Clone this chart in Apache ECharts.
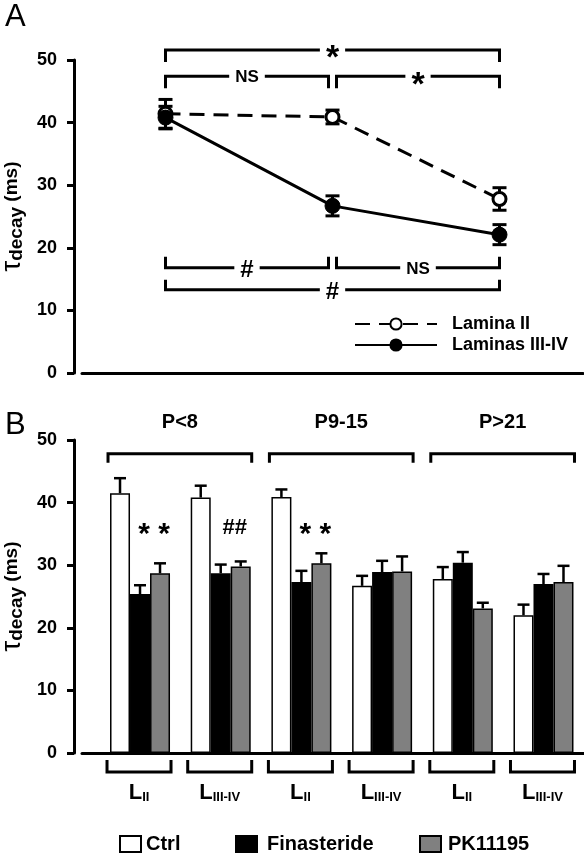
<!DOCTYPE html>
<html><head><meta charset="utf-8">
<script src="https://cdn.jsdelivr.net/npm/echarts@6/dist/echarts.min.js"></script>
<style>html,body{margin:0;padding:0;background:#fff}#c{width:584px;height:853px}</style>
</head><body><div id="c"></div>
<script>
// ---------- Panel A data ----------
const agesA = ['P<8', 'P9-15', 'P>21'];
const laminaII = [41.4, 40.9, 27.8];
const laminaIIErr = [2.3, 1.1, 1.8];
const laminasIIIIV = [40.8, 26.7, 22.1];
const laminasIIIIVErr = [1.8, 1.6, 1.6];
const yTicksA = [0, 10, 20, 30, 40, 50];
// significance brackets: [fromIndex, toIndex, level, text, direction]
const bracketsA = [
  [0, 2, 51.6, '*', 'down'],
  [0, 1, 47.4, 'NS', 'down'],
  [1, 2, 47.4, '*', 'down'],
  [0, 1, 16.8, '#', 'up'],
  [1, 2, 16.8, 'NS', 'up'],
  [0, 2, 13.3, '#', 'up']
];

// ---------- Panel B data ----------
const groupPos = [1, 2, 3, 4, 5, 6];
const groupLamina = ['II', 'III-IV', 'II', 'III-IV', 'II', 'III-IV'];
const ageGroupsB = ['P<8', 'P9-15', 'P>21'];
const ctrl = [41.5, 40.8, 40.9, 26.7, 27.8, 22.0];
const ctrlErr = [2.4, 1.9, 1.2, 1.6, 1.9, 1.7];
const finasteride = [25.4, 28.7, 27.3, 28.9, 30.4, 27.0];
const finasterideErr = [1.4, 1.4, 1.8, 1.8, 1.7, 1.6];
const pk11195 = [28.7, 29.8, 30.3, 29.0, 23.1, 27.3];
const pk11195Err = [1.6, 0.8, 1.6, 2.4, 0.9, 2.6];
const sigTextB = ['* *', '##', '* *'];
const sigGroupB = [1, 2, 3];
const sigLevelB = 36;
const bracketLevelB = 47.8;

const FONT = '"Liberation Sans", Arial, sans-serif';
const chart = echarts.init(document.getElementById('c'), null, {renderer: 'canvas'});

function errSeries(name, xi, yi, xs, means, errs, offset, twoSided, capHalf, lw, z) {
  return {
    type: 'custom', name: name, xAxisIndex: xi, yAxisIndex: yi, z: z, silent: true, clip: false,
    data: means.map((m, i) => [xs[i], m, errs[i]]),
    renderItem: function (params, api) {
      const x = api.value(0), m = api.value(1), e = api.value(2);
      const t = api.coord([x, m + e]);
      const b = api.coord([x, twoSided ? m - e : m]);
      const cx = t[0] + offset;
      const children = [
        {type: 'line', shape: {x1: cx, y1: t[1], x2: cx, y2: b[1]}, style: {stroke: '#000', lineWidth: lw}},
        {type: 'line', shape: {x1: cx - capHalf, y1: t[1], x2: cx + capHalf, y2: t[1]}, style: {stroke: '#000', lineWidth: lw}}
      ];
      if (twoSided) children.push({type: 'line', shape: {x1: cx - capHalf, y1: b[1], x2: cx + capHalf, y2: b[1]}, style: {stroke: '#000', lineWidth: lw}});
      return {type: 'group', children: children};
    }
  };
}

const nameRich = {
  t: {fontSize: 27, fontFamily: FONT, color: '#000'},
  s: {fontSize: 19, fontFamily: FONT, fontWeight: 'bold', color: '#000', verticalAlign: 'bottom', padding: [9, 0, 0, 0]},
  n: {fontSize: 19, fontFamily: FONT, fontWeight: 'bold', color: '#000'}
};
const yNameText = '{t|τ}{s|decay}{n| (ms)}';

function yAxisCommon(gi) {
  return {
    type: 'value', gridIndex: gi, min: 0, max: 50, interval: 10, offset: 8,
    name: yNameText, nameLocation: 'middle', nameGap: 45, nameRotate: 90,
    nameTextStyle: {rich: nameRich},
    axisLine: {show: true, onZero: false, lineStyle: {color: '#000', width: 3}},
    axisTick: {show: true, length: 7, lineStyle: {color: '#000', width: 3}},
    axisLabel: {color: '#000', fontSize: 18, fontWeight: 'bold', fontFamily: FONT, margin: 17},
    splitLine: {show: false}
  };
}

const legendText = {fontSize: 20, fontWeight: 'bold', fontFamily: FONT, color: '#000'};

const option = {
  backgroundColor: '#fff',
  animation: false,
  title: [
    {text: 'A', left: 0, top: -3, textStyle: {fontSize: 31, fontWeight: 'normal', fontFamily: FONT, color: '#000'}},
    {text: 'B', left: 0, top: 405, textStyle: {fontSize: 31, fontWeight: 'normal', fontFamily: FONT, color: '#000'}}
  ],
  grid: [
    {left: 82, right: 1, top: 60, height: 313, outerBoundsMode: 'none'},
    {left: 82, right: 0, top: 440, height: 313, outerBoundsMode: 'none'}
  ],
  xAxis: [
    {type: 'category', gridIndex: 0, data: agesA, boundaryGap: true,
     axisLine: {lineStyle: {color: '#000', width: 3}},
     axisTick: {alignWithLabel: true, length: 12, lineStyle: {color: '#000', width: 3}},
     axisLabel: {show: false}, splitLine: {show: false}},
    {type: 'value', gridIndex: 1, min: 0.281, max: 6.502,
     axisLine: {onZero: false, lineStyle: {color: '#000', width: 3}},
     axisTick: {show: false}, axisLabel: {show: false}, splitLine: {show: false}}
  ],
  yAxis: [yAxisCommon(0), yAxisCommon(1)],
  legend: [
    {data: ['Lamina II', 'Laminas III-IV'], orient: 'vertical', left: 349, top: 310,
     itemWidth: 82, itemHeight: 14, itemGap: 3, selectedMode: false,
     textStyle: {fontSize: 18, fontWeight: 'bold', fontFamily: FONT, color: '#000', padding: [0, 0, 0, 10]}},
    {data: ['Ctrl'], left: 114, top: 829, itemWidth: 21, itemHeight: 16, selectedMode: false, icon: 'rect',
     textStyle: Object.assign({padding: [0, 0, 0, 0]}, legendText)},
    {data: ['Finasteride'], left: 230, top: 829, itemWidth: 21, itemHeight: 16, selectedMode: false, icon: 'rect',
     textStyle: Object.assign({padding: [0, 0, 0, 5]}, legendText)},
    {data: ['PK11195'], left: 414, top: 829, itemWidth: 21, itemHeight: 16, selectedMode: false, icon: 'rect',
     textStyle: Object.assign({padding: [0, 0, 0, 2]}, legendText)}
  ],
  series: [
    errSeries('errII', 0, 0, [0, 1, 2], laminaII, laminaIIErr, 0, true, 7, 3, 1),
    errSeries('errIIIIV', 0, 0, [0, 1, 2], laminasIIIIV, laminasIIIIVErr, 0, true, 7, 3, 1),
    {type: 'line', name: 'Lamina II', xAxisIndex: 0, yAxisIndex: 0, data: laminaII, z: 3,
     symbol: 'circle', symbolSize: 13,
     itemStyle: {color: '#fff', borderColor: '#000', borderWidth: 3},
     lineStyle: {color: '#000', width: 3, type: [15, 9]}},
    {type: 'line', name: 'Laminas III-IV', xAxisIndex: 0, yAxisIndex: 0, data: laminasIIIIV, z: 4,
     symbol: 'circle', symbolSize: 15,
     itemStyle: {color: '#000', borderColor: '#000', borderWidth: 1},
     lineStyle: {color: '#000', width: 3, type: 'solid'}},
    // Panel A brackets
    {type: 'custom', xAxisIndex: 0, yAxisIndex: 0, silent: true, clip: false, z: 5,
     data: bracketsA.map((b, i) => [b[0], b[2], i]),
     renderItem: function (params, api) {
       const b = bracketsA[params.dataIndex];
       const p1 = api.coord([b[0], b[2]]);
       const p2 = api.coord([b[1], b[2]]);
       const adj = Math.abs(b[1] - b[0]) === 1;
       let x1 = p1[0], x2 = p2[0];
       if (adj && b[0] === 1) x1 += 4;
       if (adj && b[1] === 1) x2 -= 4;
       const y = p1[1];
       const tip = b[4] === 'down' ? 12 : (adj ? -11 : -10);
       const isStar = b[3] === '*';
       const isHash = b[3] === '#';
       const fs = isStar ? 34 : (isHash ? 24 : 17);
       return {type: 'group', children: [
         {type: 'polyline', shape: {points: [[x1, y + tip], [x1, y], [x2, y], [x2, y + tip]]},
          style: {stroke: '#000', lineWidth: 3, fill: null}},
         {type: 'text', x: (x1 + x2) / 2, y: y + (isStar ? 9 : (isHash ? 3 : 1)),
          style: {text: b[3], fontSize: fs, fontWeight: 'bold', fontFamily: FONT, fill: '#000',
                  align: 'center', verticalAlign: 'middle', backgroundColor: '#fff', padding: [0, 6]}}
       ]};
     }},
    // Panel B bars
    {type: 'bar', name: 'Ctrl', xAxisIndex: 1, yAxisIndex: 1, barWidth: 20, barGap: '0%',
     data: groupPos.map((x, i) => [x, ctrl[i]]),
     itemStyle: {color: '#fff', borderColor: '#000', borderWidth: 1.5}},
    {type: 'bar', name: 'Finasteride', xAxisIndex: 1, yAxisIndex: 1, barWidth: 20, barGap: '0%',
     data: groupPos.map((x, i) => [x, finasteride[i]]),
     itemStyle: {color: '#000', borderColor: '#000', borderWidth: 1.5}},
    {type: 'bar', name: 'PK11195', xAxisIndex: 1, yAxisIndex: 1, barWidth: 20, barGap: '0%',
     data: groupPos.map((x, i) => [x, pk11195[i]]),
     itemStyle: {color: '#808080', borderColor: '#000', borderWidth: 1.5}},
    errSeries('errCtrl', 1, 1, groupPos, ctrl, ctrlErr, -20, false, 6, 2.5, 3),
    errSeries('errFin', 1, 1, groupPos, finasteride, finasterideErr, 0, false, 6, 2.5, 3),
    errSeries('errPk', 1, 1, groupPos, pk11195, pk11195Err, 20, false, 6, 2.5, 3),
    // Panel B age brackets (top)
    {type: 'custom', xAxisIndex: 1, yAxisIndex: 1, silent: true, clip: false, z: 5,
     data: ageGroupsB.map((a, i) => [groupPos[2 * i], bracketLevelB, i]),
     renderItem: function (params, api) {
       const i = params.dataIndex;
       const p1 = api.coord([groupPos[2 * i], bracketLevelB]);
       const p2 = api.coord([groupPos[2 * i + 1], bracketLevelB]);
       const x1 = p1[0] - 32, x2 = p2[0] + 31, y = p1[1];
       return {type: 'group', children: [
         {type: 'polyline', shape: {points: [[x1, y + 9], [x1, y], [x2, y], [x2, y + 9]]},
          style: {stroke: '#000', lineWidth: 3, fill: null}},
         {type: 'text', x: (x1 + x2) / 2, y: y - 31,
          style: {text: ageGroupsB[i], fontSize: 20, fontWeight: 'bold', fontFamily: FONT, fill: '#000',
                  align: 'center', verticalAlign: 'middle'}}
       ]};
     }},
    // Panel B lamina brackets (bottom) and labels
    {type: 'custom', xAxisIndex: 1, yAxisIndex: 1, silent: true, clip: false, z: 5,
     data: groupPos.map((x, i) => [x, 0, i]),
     renderItem: function (params, api) {
       const i = params.dataIndex;
       const p = api.coord([groupPos[i], 0]);
       const x1 = p[0] - 33, x2 = p[0] + 31, y0 = p[1];
       return {type: 'group', children: [
         {type: 'polyline', shape: {points: [[x1, y0 + 7], [x1, y0 + 19], [x2, y0 + 19], [x2, y0 + 7]]},
          style: {stroke: '#000', lineWidth: 3, fill: null}},
         {type: 'text', x: p[0] - 1, y: y0 + 40,
          style: {text: '{L|L}{s|' + groupLamina[i] + '}', align: 'center', verticalAlign: 'middle',
                  rich: {
                    L: {fontSize: 22, fontWeight: 'bold', fontFamily: FONT, fill: '#000'},
                    s: {fontSize: 13, fontWeight: 'bold', fontFamily: FONT, fill: '#000', verticalAlign: 'bottom', padding: [8, 0, 0, 0]}
                  }}}
       ]};
     }},
    // Panel B significance marks
    {type: 'custom', xAxisIndex: 1, yAxisIndex: 1, silent: true, clip: false, z: 6,
     data: sigGroupB.map((g, i) => [g, sigLevelB, i]),
     renderItem: function (params, api) {
       const i = params.dataIndex;
       const p = api.coord([sigGroupB[i], sigLevelB]);
       const star = sigTextB[i].indexOf('*') >= 0;
       return {type: 'text', x: p[0] + 14, y: p[1] + (star ? 7 : 0),
               style: {text: sigTextB[i], fontSize: star ? 30 : 22, fontWeight: 'bold', fontFamily: FONT,
                       fill: '#000', align: 'center', verticalAlign: 'middle'}};
     }}
  ]
};
chart.setOption(option);
</script>
</body></html>
